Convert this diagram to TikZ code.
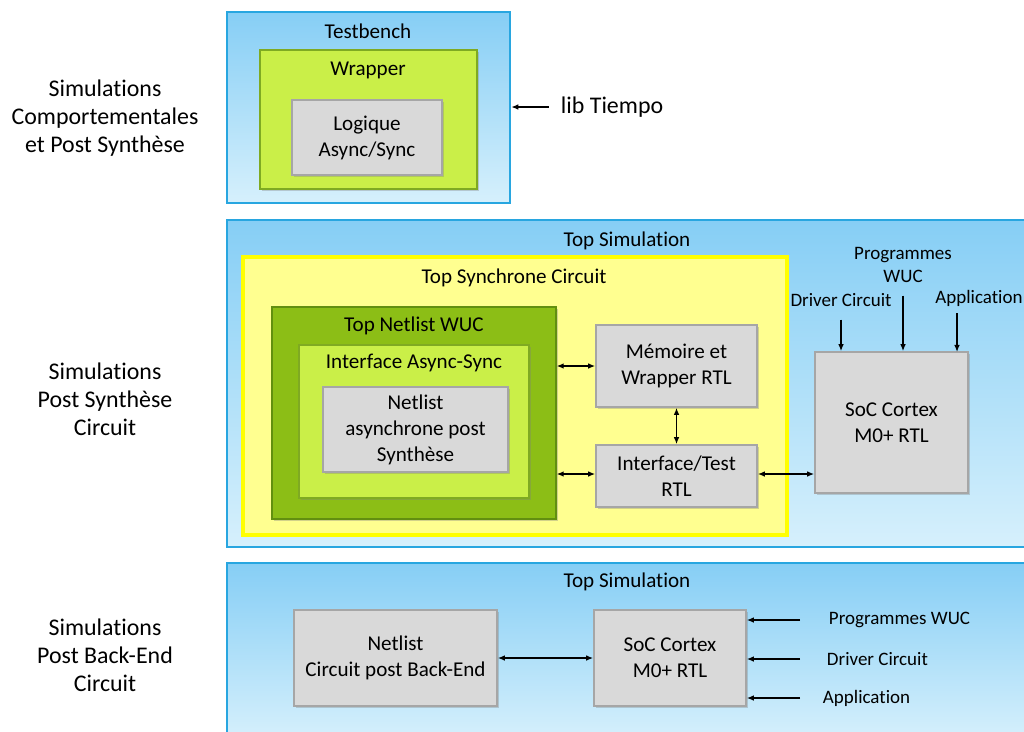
\documentclass[tikz,border=0pt]{standalone}
\usepackage{fontspec}
\setmainfont[Ligatures=NoCommon]{Carlito}
\usetikzlibrary{positioning,fit,shadows,arrows.meta}

\definecolor{simblue}{HTML}{28A6E0}
\definecolor{simbluetop}{HTML}{86CEF5}
\definecolor{simbluebot}{HTML}{D6F0FC}
\definecolor{syncyellow}{HTML}{FFFF90}
\definecolor{syncborder}{HTML}{FFFF00}
\definecolor{wucgreen}{HTML}{8CBE16}
\definecolor{wucborder}{HTML}{628F10}
\definecolor{limegreen}{HTML}{CAEF48}
\definecolor{limeborder}{HTML}{7FAA22}
\definecolor{rtlgray}{HTML}{D9D9D9}
\definecolor{rtlborder}{HTML}{A6A6A6}

\tikzset{
  simbox/.style={draw=simblue, line width=1.8pt, top color=simbluetop, bottom color=simbluebot, inner sep=0pt},
  syncbox/.style={draw=syncborder, line width=2.6pt, fill=syncyellow, inner sep=0pt,
    drop shadow={shadow xshift=1.5pt, shadow yshift=-1.5pt, opacity=.25}},
  wucbox/.style={draw=wucborder, line width=1pt, fill=wucgreen, inner sep=0pt,
    drop shadow={shadow xshift=1.5pt, shadow yshift=-1.5pt, opacity=.35}},
  limebox/.style={draw=limeborder, line width=1pt, fill=limegreen, inner sep=0pt,
    drop shadow={shadow xshift=1.5pt, shadow yshift=-1.5pt, opacity=.35}},
  rtlbox/.style={draw=rtlborder, line width=1.2pt, fill=rtlgray, inner sep=0pt, align=center,
    font=\fontsize{15}{18.5}\selectfont,
    drop shadow={shadow xshift=1.5pt, shadow yshift=-1.5pt, opacity=.35}},
  boxsize/.style 2 args={minimum width=#1*0.025cm, minimum height=#2*0.025cm},
  title/.style={font=\fontsize{15}{18}\selectfont},
  side/.style={align=center, font=\fontsize{17}{20}\selectfont},
  tag/.style={align=center, font=\fontsize{13.5}{16.5}\selectfont},
  link/.style={{Latex[length=5pt,width=4pt]}-{Latex[length=5pt,width=4pt]}, line width=0.9pt},
  feed/.style={-{Latex[length=5pt,width=4pt]}, line width=0.9pt}
}

\begin{document}
\begin{tikzpicture}[x=0.025cm, y=-0.025cm]
  \useasboundingbox (0,0) rectangle (1024,731);
  \clip (0,0) rectangle (1024,731);

  % Simulations comportementales
  \node[side] (row1) at (105,118) {Simulations\\Comportementales\\et Post Synthèse};
  \node[simbox, fit={(227,12) (510,203)}] (tb) {};
  \node[title] at (368,31) {Testbench};
  \node[limebox, fit={(260,50) (477,189)}] (wrap) {};
  \node[title] at (368,70) {Wrapper};
  \node[rtlbox, boxsize={150}{75}] (logic) at (367,137.5) {Logique\\Async/Sync};
  \node[side, anchor=west] (lib) at (556,107) {lib Tiempo};
  \draw[feed] ([xshift=-0.18cm]lib.west) -- (lib.west -| tb.east);

  % Simulations post synthese circuit
  \node[side] (row2) at (105,399) {Simulations\\Post Synthèse\\Circuit};
  \node[simbox, fit={(227,220) (1034,547)}] (top1) {};
  \node[title] at (627,241) {Top Simulation};
  \node[syncbox, fit={(243,257) (787,535)}] (sync) {};
  \node[title] at (514,278) {Top Synchrone Circuit};
  \node[wucbox, fit={(272,307) (556,519)}] (wuc) {};
  \node[title] at (414,326) {Top Netlist WUC};
  \node[limebox, fit={(299,345) (529,498)}] (async) {};
  \node[title] at (414,363) {Interface Async-Sync};
  \node[rtlbox, boxsize={185}{85}] (netlist) at (415.5,429.5) {Netlist\\asynchrone post\\Synthèse};
  \node[rtlbox, boxsize={161}{82}] (mem) at (676.5,366) {Mémoire et\\Wrapper RTL};
  \node[rtlbox, boxsize={161}{62}] (itf) at (676.5,476) {Interface/Test\\RTL};
  \node[rtlbox, boxsize={153}{141}] (soc) at (891.5,422.5) {SoC Cortex\\M0+ RTL};

  \draw[link] (mem.west -| wuc.east) -- (mem.west);
  \draw[link] ([yshift=0.05cm]itf.west -| wuc.east) -- ([yshift=0.05cm]itf.west);
  \draw[link] (mem.south) -- (itf.north);
  \draw[link] ([yshift=0.05cm]itf.east) -- ([yshift=0.05cm]itf.east -| soc.west);

  \node[tag] (drv) at (841,300) {Driver Circuit};
  \node[tag] (prog) at (903,265) {Programmes\\WUC};
  \node[tag] (app) at (979,298) {Application};
  \coordinate (appin) at (957,352);
  \draw[feed] ([yshift=-0.2cm]drv.south) -- (drv.south |- soc.north);
  \draw[feed] ([yshift=-0.2cm]prog.south) -- (prog.south |- soc.north);
  \draw[feed] ([yshift=-0.05cm]app.south -| appin) -- (appin);

  % Simulations post back-end circuit
  \node[side] (row3) at (105,655) {Simulations\\Post Back-End\\Circuit};
  \node[simbox, fit={(227,563) (1034,740)}] (top2) {};
  \node[title] at (627,582) {Top Simulation};
  \node[rtlbox, boxsize={203}{96}] (backend) at (395.5,658) {Netlist\\Circuit post Back-End};
  \node[rtlbox, boxsize={152}{96}] (soc2) at (670,658) {SoC Cortex\\M0+ RTL};
  \draw[link] (backend.east) -- (soc2.west);

  \coordinate (feedx) at (800,0);
  \node[tag, anchor=west] (pwuc) at (824,620) {Programmes WUC};
  \node[tag, anchor=west] (dcirc) at (822,659) {Driver Circuit};
  \node[tag, anchor=west] (appl) at (818,698) {Application};
  \draw[feed] (pwuc.west -| feedx) -- (pwuc.west -| soc2.east);
  \draw[feed] (dcirc.west -| feedx) -- (dcirc.west -| soc2.east);
  \draw[feed] (appl.west -| feedx) -- (appl.west -| soc2.east);
\end{tikzpicture}
\end{document}
